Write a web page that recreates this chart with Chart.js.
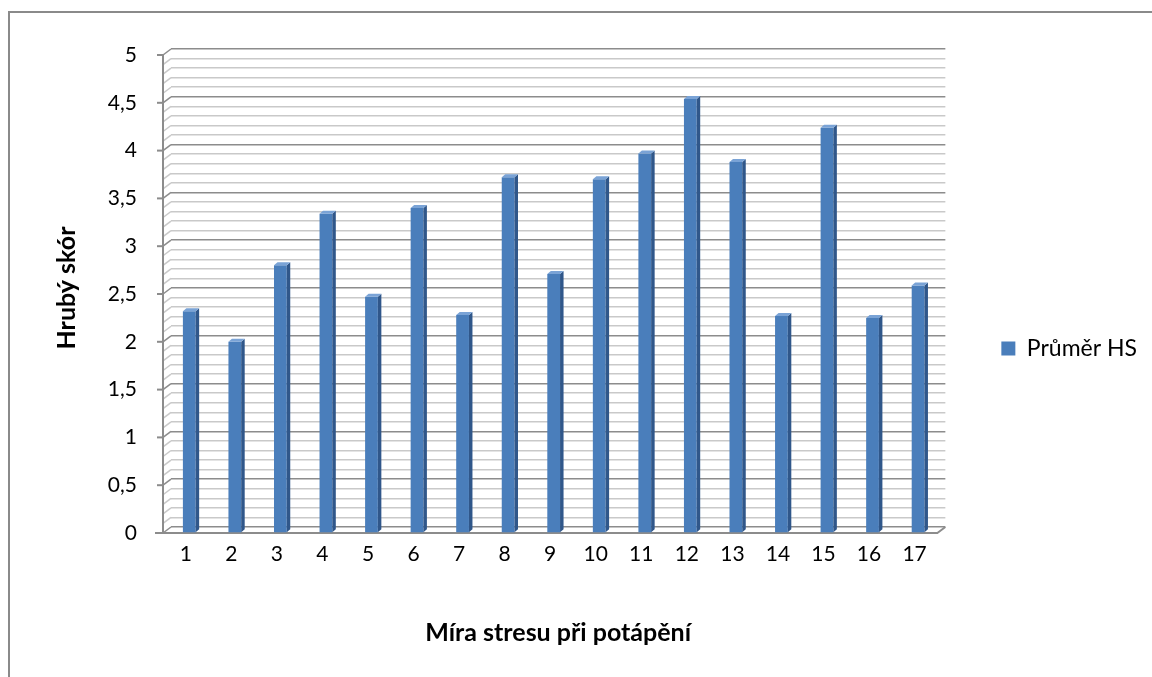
<!DOCTYPE html>
<html>
<head>
<meta charset="utf-8">
<script src="https://cdn.jsdelivr.net/npm/chart.js@4.4.0/dist/chart.umd.min.js"></script>
<style>
  html, body { margin: 0; padding: 0; background: #fff; overflow: hidden; }
  #wrap { position: relative; width: 1152px; height: 677px; }
</style>
</head>
<body>
<div id="wrap"><canvas id="chart" width="1152" height="677"></canvas></div>
<script>
const categories = ['1', '2', '3', '4', '5', '6', '7', '8', '9', '10', '11', '12', '13', '14', '15', '16', '17'];
const prumerHS = [2.32, 2.0, 2.8, 3.34, 2.47, 3.4, 2.28, 3.72, 2.71, 3.7, 3.97, 4.54, 3.88, 2.27, 4.24, 2.25, 2.59];
const seriesName = 'Průměr HS';
const xTitle = 'Míra stresu při potápění';
const yTitle = 'Hrubý skór';

const DEPTH_X = 8, DEPTH_Y = 6;   // back wall offset
const isMajor = v => Math.abs(v * 2 - Math.round(v * 2)) < 1e-6;
const gridColor = v => isMajor(v) ? '#8c8c8c' : '#c9c9c9';

const wall3d = {
  id: 'wall3d',
  beforeDraw(chart) {
    const ctx = chart.ctx;
    ctx.save();
    ctx.strokeStyle = '#8a8a8a';
    ctx.lineWidth = 2;
    ctx.strokeRect(9, 12, 1300, 1000);
    ctx.restore();
  },
  beforeDatasetsDraw(chart) {
    const ctx = chart.ctx;
    const y = chart.scales.y;
    const { left, right } = chart.chartArea;
    const fx = left - DEPTH_X;
    ctx.save();
    ctx.lineWidth = 1.5;
    y.ticks.forEach(t => {
      const by = y.getPixelForValue(t.value);
      ctx.strokeStyle = gridColor(t.value);
      ctx.beginPath();
      ctx.moveTo(fx, by + DEPTH_Y);
      ctx.lineTo(left, by);
      ctx.stroke();
    });
    const top = y.getPixelForValue(5) + DEPTH_Y;
    const y0 = y.getPixelForValue(0);
    ctx.strokeStyle = '#8c8c8c';
    ctx.lineWidth = 2;
    ctx.beginPath();
    ctx.moveTo(fx, top);
    ctx.lineTo(fx, y0 + DEPTH_Y);
    ctx.stroke();
    y.ticks.filter(t => isMajor(t.value)).forEach(t => {
      const fy = y.getPixelForValue(t.value) + DEPTH_Y;
      ctx.beginPath();
      ctx.moveTo(fx - 6, fy);
      ctx.lineTo(fx, fy);
      ctx.stroke();
    });
    ctx.beginPath();
    ctx.moveTo(fx - 8, y0 + DEPTH_Y);
    ctx.lineTo(right - DEPTH_X, y0 + DEPTH_Y);
    ctx.lineTo(right, y0);
    ctx.stroke();
    ctx.restore();

    ctx.save();
    ctx.translate(-4.5, DEPTH_Y);
  },
  afterDatasetsDraw(chart) {
    const ctx = chart.ctx;
    const dx = 3.5, dy = 3;
    chart.getDatasetMeta(0).data.forEach(bar => {
      const { x, y, width, base } = bar.getProps(['x', 'y', 'width', 'base'], true);
      const l = x - width / 2, r = x + width / 2;
      ctx.fillStyle = '#30578a';
      ctx.beginPath();
      ctx.moveTo(r, y);
      ctx.lineTo(r + dx, y - dy);
      ctx.lineTo(r + dx, base - dy);
      ctx.lineTo(r, base);
      ctx.closePath();
      ctx.fill();
      ctx.fillStyle = '#7aa3d6';
      ctx.beginPath();
      ctx.moveTo(l, y);
      ctx.lineTo(l + dx, y - dy);
      ctx.lineTo(r + dx, y - dy);
      ctx.lineTo(r, y);
      ctx.closePath();
      ctx.fill();
    });
    ctx.restore();
  }
};

new Chart(document.getElementById('chart'), {
  type: 'bar',
  data: {
    labels: categories,
    datasets: [{
      label: seriesName,
      data: prumerHS,
      backgroundColor: '#4a7ebb',
      borderWidth: 0,
      barPercentage: 0.28,
      categoryPercentage: 1
    }]
  },
  options: {
    responsive: false,
    animation: false,
    layout: { padding: { left: 0, top: 49, right: 5, bottom: 29 } },
    plugins: {
      legend: {
        position: 'right',
        labels: {
          boxWidth: 14,
          boxHeight: 14,
          padding: 10,
          color: '#000',
          font: { family: 'Lato', size: 23 }
        }
      },
      tooltip: { enabled: false }
    },
    scales: {
      x: {
        grid: { display: false },
        border: { display: false },
        ticks: {
          color: '#000',
          font: { family: 'Lato', size: 21 },
          padding: 7,
          labelOffset: -8,
          maxRotation: 0
        },
        title: {
          display: true,
          text: xTitle,
          color: '#000',
          font: { family: 'Lato', size: 25, weight: 'bold', lineHeight: 1.2 },
          padding: { top: 0, bottom: 0 }
        },
        afterFit(s) { s.height = 121; }
      },
      y: {
        min: 0,
        max: 5,
        border: { display: false },
        grid: {
          drawTicks: false,
          lineWidth: 1.5,
          color: c => gridColor(c.tick.value)
        },
        ticks: {
          stepSize: 0.1,
          autoSkip: false,
          maxTicksLimit: 100,
          padding: 34,
          labelOffset: 6,
          color: '#000',
          font: { family: 'Lato', size: 21 },
          callback: v => isMajor(v) ? String(Math.round(v * 2) / 2).replace('.', ',') : ''
        },
        title: {
          display: true,
          text: yTitle,
          color: '#000',
          font: { family: 'Lato', size: 25, weight: 'bold', lineHeight: 1.2 },
          padding: { top: 52, bottom: 0 }
        },
        afterFit(s) { s.width = 171; }
      },
      yPad: {
        position: 'right',
        display: true,
        grid: { display: false },
        border: { display: false },
        ticks: { display: false },
        afterFit(s) { s.width = 46; }
      }
    }
  },
  plugins: [wall3d]
});
</script>
</body>
</html>
